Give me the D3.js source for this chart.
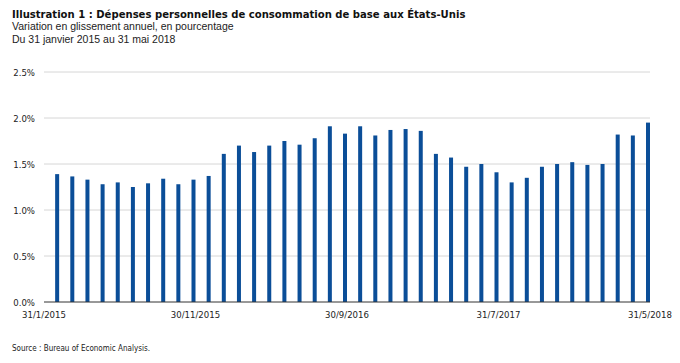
<!DOCTYPE html>
<html>
<head>
<meta charset="utf-8">
<script src="https://cdn.jsdelivr.net/npm/d3@7"></script>
<style>
  body { margin: 0; background: #fff; }
  text { font-family: "Liberation Sans Narrow", "DejaVu Sans Condensed", Arial, sans-serif; }
  .plain { font-family: "Liberation Sans", Arial, sans-serif; }
</style>
</head>
<body>
<svg width="680" height="363"></svg>
<script>
// months shown as bars (Feb 2015 - May 2018)
var months = [];
for (var yr = 2015; yr <= 2018; yr++) {
  for (var m = 1; m <= 12; m++) {
    if (yr == 2015 && m < 2) continue;
    if (yr == 2018 && m > 5) continue;
    months.push(yr + '-' + (m < 10 ? '0' + m : m));
  }
}

// year-over-year change, in percent
var values = [1.39, 1.365, 1.33, 1.28, 1.30, 1.25, 1.29, 1.34, 1.28, 1.33,
              1.37, 1.61, 1.70, 1.63, 1.70, 1.75, 1.71, 1.78, 1.91, 1.83,
              1.91, 1.81, 1.87, 1.88, 1.86, 1.61, 1.57, 1.47, 1.50, 1.41,
              1.30, 1.35, 1.47, 1.50, 1.52, 1.49, 1.50, 1.82, 1.81, 1.95];

// x axis labels and the bar boundary they sit on
var tickLabels = ['31/1/2015', '30/11/2015', '30/9/2016', '31/7/2017', '31/5/2018'];
var tickIndex = [0, 10, 20, 30, 40];

var yTicks = [0, 0.5, 1.0, 1.5, 2.0, 2.5];

var svg = d3.select('svg');

var x = d3.scaleBand().domain(months).range([44, 650]).padding(0);
var y = d3.scaleLinear().domain([0, 2.5]).range([302, 72]);

// gridlines
svg.append('g')
    .selectAll('line')
    .data(yTicks.filter(function(d){ return d > 0; }))
    .enter()
    .append('line')
    .attr('x1', 44)
    .attr('x2', 650)
    .attr('y1', function(d){ return y(d); })
    .attr('y2', function(d){ return y(d); })
    .attr('stroke', '#d6d6d6')
    .attr('stroke-width', 1);

// y labels
svg.append('g')
    .selectAll('text')
    .data(yTicks)
    .enter()
    .append('text')
    .attr('x', 35)
    .attr('y', function(d){ return y(d) + 3.5; })
    .attr('text-anchor', 'end')
    .attr('font-size', '9.5px')
    .attr('fill', '#222')
    .text(function(d){ return d.toFixed(1) + '%'; });

// bars, sitting at the right side of each month slot
var barW = 4;
svg.append('g')
    .selectAll('rect')
    .data(values)
    .enter()
    .append('rect')
    .attr('x', function(d, i){ return x(months[i]) + x.bandwidth() - barW; })
    .attr('width', barW)
    .attr('y', function(d){ return y(d); })
    .attr('height', function(d){ return y(0) - y(d); })
    .attr('fill', '#0b4e98');

// base line
svg.append('line')
    .attr('x1', 44)
    .attr('x2', 650)
    .attr('y1', y(0))
    .attr('y2', y(0))
    .attr('stroke', '#333')
    .attr('stroke-width', 1);

// x labels
svg.append('g')
    .selectAll('text')
    .data(tickLabels)
    .enter()
    .append('text')
    .attr('x', function(d, i){ return x.range()[0] + tickIndex[i] * x.step(); })
    .attr('y', 318)
    .attr('text-anchor', 'middle')
    .attr('font-size', '9.5px')
    .attr('fill', '#222')
    .text(function(d){ return d; });

// titles
svg.append('text')
    .text('Illustration 1 : Dépenses personnelles de consommation de base aux États-Unis')
    .attr('x', 12).attr('y', 18)
    .attr('font-size', '11.2px')
    .attr('font-weight', 'bold')
    .attr('fill', '#111');

svg.append('text')
    .attr('class', 'plain')
    .text('Variation en glissement annuel, en pourcentage')
    .attr('x', 12).attr('y', 30)
    .attr('font-size', '10.5px')
    .attr('fill', '#222');

svg.append('text')
    .attr('class', 'plain')
    .text('Du 31 janvier 2015 au 31 mai 2018')
    .attr('x', 12).attr('y', 43)
    .attr('font-size', '10.5px')
    .attr('fill', '#222');

svg.append('text')
    .text('Source : Bureau of Economic Analysis.')
    .attr('x', 12).attr('y', 351)
    .attr('font-size', '8px')
    .attr('fill', '#222');
</script>
</body>
</html>
